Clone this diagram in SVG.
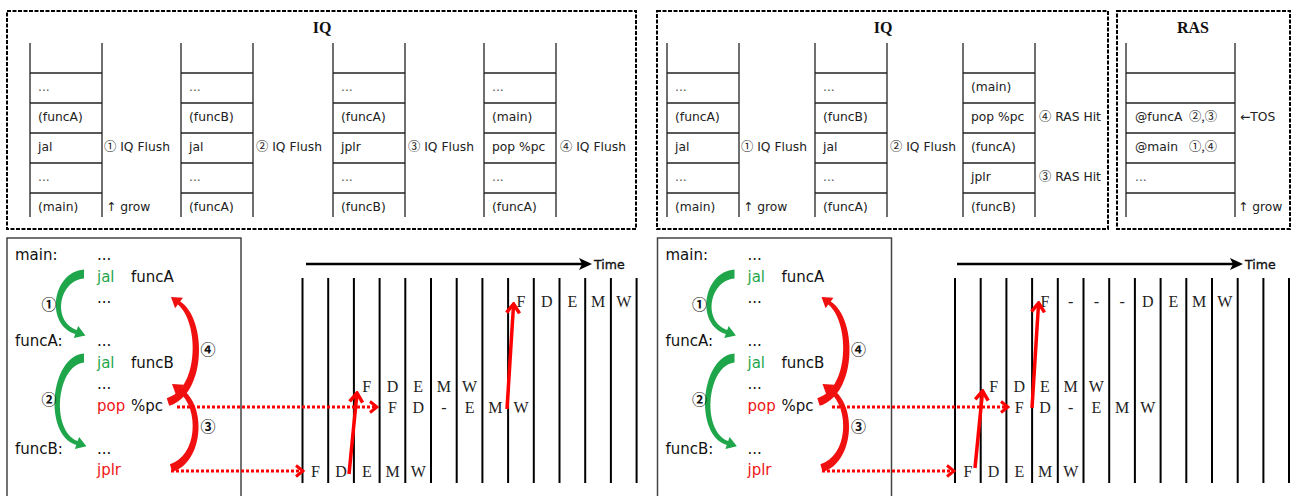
<svg xmlns="http://www.w3.org/2000/svg" xmlns:xlink="http://www.w3.org/1999/xlink" width="1293" height="496" viewBox="0 0 1293 496">
<style>
  .frame{fill:none;stroke:#000;stroke-width:2;stroke-dasharray:4 1.5}
  .title{font-family:"Liberation Serif",serif;font-size:16px;font-weight:bold;fill:#111;text-anchor:middle}
  .stk line{stroke:#222;stroke-width:1.3}
  .t{font-family:"DejaVu Sans","Noto Sans CJK SC",sans-serif;font-size:12.3px;fill:#222}
  .cd{font-family:"Noto Sans CJK SC",sans-serif}
  .dots{fill:#555;opacity:0.99}
  .code{font-family:"DejaVu Sans","Noto Sans CJK SC",sans-serif;font-size:15px;fill:#111}
  .grn{fill:#1fa64b}
  .red{fill:#f01515}
  .num{font-family:"Noto Sans CJK SC",sans-serif;font-size:15px;font-weight:bold;fill:#111;text-anchor:middle}
  .box{fill:none;stroke:#444;stroke-width:1.5}
  .vl{stroke:#000;stroke-width:2}
  .st{font-family:"Liberation Serif",serif;font-size:16px;fill:#222;text-anchor:middle}
  .time{font-family:"DejaVu Sans",sans-serif;font-size:12.5px;fill:#111;stroke:#111;stroke-width:0.35}
  .dot{fill:none;stroke:#f00;stroke-width:3;stroke-dasharray:3 2}
  .jump{fill:none;stroke:#f00;stroke-width:3.5}
</style>
<defs>
  <!-- one queue/stack column: two rails and five row separators -->
  <g id="stk" class="stk">
    <line x1="0" y1="43" x2="0" y2="217"/>
    <line x1="72" y1="43" x2="72" y2="217"/>
    <line x1="0" y1="73" x2="72" y2="73"/>
    <line x1="0" y1="103" x2="72" y2="103"/>
    <line x1="0" y1="133" x2="72" y2="133"/>
    <line x1="0" y1="163" x2="72" y2="163"/>
    <line x1="0" y1="193" x2="72" y2="193"/>
  </g>
  <marker id="chev" viewBox="-10 -8 12 16" markerWidth="12" markerHeight="16" refX="0" refY="0" orient="auto" markerUnits="userSpaceOnUse">
    <path d="M-7,-5.5 L0,0 L-7,5.5" fill="none" stroke="#f00" stroke-width="3"/>
  </marker>
  <marker id="chevB" viewBox="-12 -9 14 18" markerWidth="14" markerHeight="18" refX="0" refY="0" orient="auto" markerUnits="userSpaceOnUse">
    <path d="M-9,-6.5 L0,0 L-9,6.5" fill="none" stroke="#f00" stroke-width="3.5"/>
  </marker>
  <!-- call / return bends in the code listing: tapered body plus head -->
  <path id="call1" d="M84,269.5 C52,272 45,324.5 75.3,333.9 L73.8,338.1 L85.4,335.4 L78.2,325.9 L76.7,330.1 C51,320 60,280 84,278.5 Z"/>
  <path id="call2" d="M84,353.5 C50,356 43,435 76.3,444.9 L74.9,449.1 L86.4,446.3 L79.1,436.9 L77.7,441.1 C50,430 57,365 84,362.5 Z"/>
  <path id="ret4" d="M169.2,405.8 C207,394.5 207,318.5 180.2,301.4 L182.9,297.8 L171,297 L175.1,308.2 L177.8,304.6 C199.5,322.5 199,389.5 166.8,398.2 Z"/>
  <path id="ret3" d="M172.1,471.8 C203,463.5 208,405.5 181.2,388.4 L183.9,384.8 L172,384 L176.1,395.2 L178.8,391.6 C200,409.5 197,456.5 169.9,464.2 Z"/>
</defs>

<rect width="1293" height="496" fill="#fff"/>

<!-- IQ contents, conventional flushing -->
<g id="iq-left">
  <rect class="frame" x="7" y="11" width="629" height="218"/>
  <text class="title" x="322" y="33">IQ</text>
  <use xlink:href="#stk" x="30"/>
  <use xlink:href="#stk" x="181"/>
  <use xlink:href="#stk" x="333"/>
  <use xlink:href="#stk" x="484"/>
  <g class="t">
    <text x="38" y="91" class="dots">...</text><text x="38" y="121">(funcA)</text><text x="38" y="151">jal</text><text x="38" y="181" class="dots">...</text><text x="38" y="211">(main)</text>
    <text x="104" y="151"><tspan class="cd">①</tspan> IQ Flush</text><text x="106" y="211">↑ grow</text>
    <text x="189" y="91" class="dots">...</text><text x="189" y="121">(funcB)</text><text x="189" y="151">jal</text><text x="189" y="181" class="dots">...</text><text x="189" y="211">(funcA)</text>
    <text x="256" y="151"><tspan class="cd">②</tspan> IQ Flush</text>
    <text x="341" y="91" class="dots">...</text><text x="341" y="121">(funcA)</text><text x="341" y="151">jplr</text><text x="341" y="181" class="dots">...</text><text x="341" y="211">(funcB)</text>
    <text x="408" y="151"><tspan class="cd">③</tspan> IQ Flush</text>
    <text x="492" y="91" class="dots">...</text><text x="492" y="121">(main)</text><text x="492" y="151">pop %pc</text><text x="492" y="181" class="dots">...</text><text x="492" y="211">(funcA)</text>
    <text x="560" y="151"><tspan class="cd">④</tspan> IQ Flush</text>
  </g>
</g>

<!-- IQ contents with return address prediction -->
<g id="iq-right">
  <rect class="frame" x="657" y="11" width="451" height="218"/>
  <text class="title" x="883" y="33">IQ</text>
  <use xlink:href="#stk" x="667"/>
  <use xlink:href="#stk" x="815"/>
  <use xlink:href="#stk" x="963"/>
  <g class="t">
    <text x="675" y="91" class="dots">...</text><text x="675" y="121">(funcA)</text><text x="675" y="151">jal</text><text x="675" y="181" class="dots">...</text><text x="675" y="211">(main)</text>
    <text x="741" y="151"><tspan class="cd">①</tspan> IQ Flush</text><text x="743" y="211">↑ grow</text>
    <text x="823" y="91" class="dots">...</text><text x="823" y="121">(funcB)</text><text x="823" y="151">jal</text><text x="823" y="181" class="dots">...</text><text x="823" y="211">(funcA)</text>
    <text x="890" y="151"><tspan class="cd">②</tspan> IQ Flush</text>
    <text x="971" y="91">(main)</text><text x="971" y="121">pop %pc</text><text x="971" y="151">(funcA)</text><text x="971" y="181">jplr</text><text x="971" y="211">(funcB)</text>
    <text x="1039" y="121"><tspan class="cd">④</tspan> RAS Hit</text><text x="1039" y="181"><tspan class="cd">③</tspan> RAS Hit</text>
  </g>
</g>

<!-- return address stack -->
<g id="ras">
  <rect class="frame" x="1117" y="11" width="173" height="218"/>
  <text class="title" x="1193" y="33">RAS</text>
  <g class="stk">
    <line x1="1126" y1="43" x2="1126" y2="217"/>
    <line x1="1235" y1="43" x2="1235" y2="217"/>
    <line x1="1126" y1="73" x2="1235" y2="73"/>
    <line x1="1126" y1="103" x2="1235" y2="103"/>
    <line x1="1126" y1="133" x2="1235" y2="133"/>
    <line x1="1126" y1="163" x2="1235" y2="163"/>
    <line x1="1126" y1="193" x2="1235" y2="193"/>
  </g>
  <g class="t">
    <text x="1135" y="121">@funcA</text><text x="1189" y="121" class="cd">②,③</text>
    <text x="1135" y="151">@main</text><text x="1189" y="151" class="cd">①,④</text>
    <text x="1135" y="181" class="dots">...</text>
    <text x="1240" y="121">←TOS</text>
    <text x="1238" y="211">↑ grow</text>
  </g>
</g>

<!-- code listing, conventional panel -->
<g id="code-left">
  <path class="box" d="M7,500 V238 H241 V500"/>
  <g class="code">
    <text x="15" y="260">main:</text><text x="97" y="260">...</text>
    <text x="97" y="281.5" class="grn">jal</text><text x="131" y="281.5">funcA</text>
    <text x="97" y="303">...</text>
    <text x="15" y="346">funcA:</text><text x="97" y="346">...</text>
    <text x="97" y="367.5" class="grn">jal</text><text x="131" y="367.5">funcB</text>
    <text x="97" y="389">...</text>
    <text x="97" y="410.5" class="red">pop</text><text x="131" y="410.5">%pc</text>
    <text x="15" y="453.5">funcB:</text><text x="97" y="453.5">...</text>
    <text x="97" y="475" class="red">jplr</text>
  </g>
  <use xlink:href="#call1" fill="#1fa64b"/>
  <use xlink:href="#call2" fill="#1fa64b"/>
  <use xlink:href="#ret4" fill="#f01010"/>
  <use xlink:href="#ret3" fill="#f01010"/>
  <text class="num" x="49" y="310">①</text>
  <text class="num" x="49" y="405">②</text>
  <text class="num" x="208" y="355">④</text>
  <text class="num" x="208" y="432">③</text>
</g>

<!-- code listing, predicted-return panel -->
<g id="code-right" transform="translate(650.5,0)">
  <path class="box" d="M7,500 V238 H241 V500"/>
  <g class="code">
    <text x="15" y="260">main:</text><text x="97" y="260">...</text>
    <text x="97" y="281.5" class="grn">jal</text><text x="131" y="281.5">funcA</text>
    <text x="97" y="303">...</text>
    <text x="15" y="346">funcA:</text><text x="97" y="346">...</text>
    <text x="97" y="367.5" class="grn">jal</text><text x="131" y="367.5">funcB</text>
    <text x="97" y="389">...</text>
    <text x="97" y="410.5" class="red">pop</text><text x="131" y="410.5">%pc</text>
    <text x="15" y="453.5">funcB:</text><text x="97" y="453.5">...</text>
    <text x="97" y="475" class="red">jplr</text>
  </g>
  <use xlink:href="#call1" fill="#1fa64b"/>
  <use xlink:href="#call2" fill="#1fa64b"/>
  <use xlink:href="#ret4" fill="#f01010"/>
  <use xlink:href="#ret3" fill="#f01010"/>
  <text class="num" x="49" y="310">①</text>
  <text class="num" x="49" y="405">②</text>
  <text class="num" x="208" y="355">④</text>
  <text class="num" x="208" y="432">③</text>
</g>

<!-- pipeline timing, conventional -->
<g id="pipe-left">
  <line x1="306" y1="264" x2="584" y2="264" stroke="#000" stroke-width="2.5"/>
  <polygon points="579,258 592,264 579,270 582,264" fill="#000"/>
  <text class="time" x="594" y="269">Time</text>
  <g class="vl">
    <line x1="302.5" y1="278" x2="302.5" y2="483"/><line x1="328.2" y1="278" x2="328.2" y2="483"/>
    <line x1="353.9" y1="278" x2="353.9" y2="483"/><line x1="379.6" y1="278" x2="379.6" y2="483"/>
    <line x1="405.3" y1="278" x2="405.3" y2="483"/><line x1="431" y1="278" x2="431" y2="483"/>
    <line x1="456.7" y1="278" x2="456.7" y2="483"/><line x1="482.4" y1="278" x2="482.4" y2="483"/>
    <line x1="508.1" y1="278" x2="508.1" y2="483"/><line x1="533.8" y1="278" x2="533.8" y2="483"/>
    <line x1="559.5" y1="278" x2="559.5" y2="483"/><line x1="585.2" y1="278" x2="585.2" y2="483"/>
    <line x1="610.9" y1="278" x2="610.9" y2="483"/><line x1="636.6" y1="278" x2="636.6" y2="483"/>
  </g>
  <g class="st">
    <text x="521" y="307">F</text><text x="546.7" y="307">D</text><text x="572.4" y="307">E</text><text x="598.1" y="307">M</text><text x="623.8" y="307">W</text>
    <text x="366.8" y="392">F</text><text x="392.5" y="392">D</text><text x="418.2" y="392">E</text><text x="443.9" y="392">M</text><text x="469.6" y="392">W</text>
    <text x="392.5" y="413">F</text><text x="418.2" y="413">D</text><text x="443.9" y="413">-</text><text x="469.6" y="413">E</text><text x="495.3" y="413">M</text><text x="521" y="413">W</text>
    <text x="315.4" y="477">F</text><text x="341.1" y="477">D</text><text x="366.8" y="477">E</text><text x="392.5" y="477">M</text><text x="418.2" y="477">W</text>
  </g>
</g>

<!-- pipeline timing, with return address prediction -->
<g id="pipe-right">
  <line x1="957" y1="264" x2="1235" y2="264" stroke="#000" stroke-width="2.5"/>
  <polygon points="1230,258 1243,264 1230,270 1233,264" fill="#000"/>
  <text class="time" x="1245" y="269">Time</text>
  <g class="vl">
    <line x1="955" y1="278" x2="955" y2="483"/><line x1="980.7" y1="278" x2="980.7" y2="483"/>
    <line x1="1006.4" y1="278" x2="1006.4" y2="483"/><line x1="1032.1" y1="278" x2="1032.1" y2="483"/>
    <line x1="1057.8" y1="278" x2="1057.8" y2="483"/><line x1="1083.5" y1="278" x2="1083.5" y2="483"/>
    <line x1="1109.2" y1="278" x2="1109.2" y2="483"/><line x1="1134.9" y1="278" x2="1134.9" y2="483"/>
    <line x1="1160.6" y1="278" x2="1160.6" y2="483"/><line x1="1186.3" y1="278" x2="1186.3" y2="483"/>
    <line x1="1212" y1="278" x2="1212" y2="483"/><line x1="1237.7" y1="278" x2="1237.7" y2="483"/>
    <line x1="1263.4" y1="278" x2="1263.4" y2="483"/><line x1="1289" y1="278" x2="1289" y2="483"/>
  </g>
  <g class="st">
    <text x="1045" y="307">F</text><text x="1070.7" y="307">-</text><text x="1096.4" y="307">-</text><text x="1122.1" y="307">-</text><text x="1147.8" y="307">D</text><text x="1173.5" y="307">E</text><text x="1199.2" y="307">M</text><text x="1224.9" y="307">W</text>
    <text x="993.6" y="392">F</text><text x="1019.3" y="392">D</text><text x="1045" y="392">E</text><text x="1070.7" y="392">M</text><text x="1096.4" y="392">W</text>
    <text x="1019.3" y="413">F</text><text x="1045" y="413">D</text><text x="1070.7" y="413">-</text><text x="1096.4" y="413">E</text><text x="1122.1" y="413">M</text><text x="1147.8" y="413">W</text>
    <text x="967.9" y="477">F</text><text x="993.6" y="477">D</text><text x="1019.3" y="477">E</text><text x="1045" y="477">M</text><text x="1070.7" y="477">W</text>
  </g>
</g>

<!-- connectors: fetch redirects and branch resolution -->
<g id="connectors">
  <line class="dot" x1="177" y1="407" x2="377" y2="407" marker-end="url(#chev)"/>
  <line class="dot" x1="171" y1="471" x2="303" y2="471" marker-end="url(#chev)"/>
  <line class="jump" x1="349" y1="474" x2="357" y2="393" marker-end="url(#chevB)"/>
  <line class="jump" x1="507" y1="409" x2="513.6" y2="304" marker-end="url(#chevB)"/>

  <line class="dot" x1="832" y1="407" x2="1008" y2="407" marker-end="url(#chev)"/>
  <line class="dot" x1="822" y1="471" x2="954" y2="471" marker-end="url(#chev)"/>
  <line class="jump" x1="975" y1="468" x2="982.6" y2="391" marker-end="url(#chevB)"/>
  <line class="jump" x1="1032" y1="408" x2="1038.6" y2="303" marker-end="url(#chevB)"/>
</g>
</svg>
